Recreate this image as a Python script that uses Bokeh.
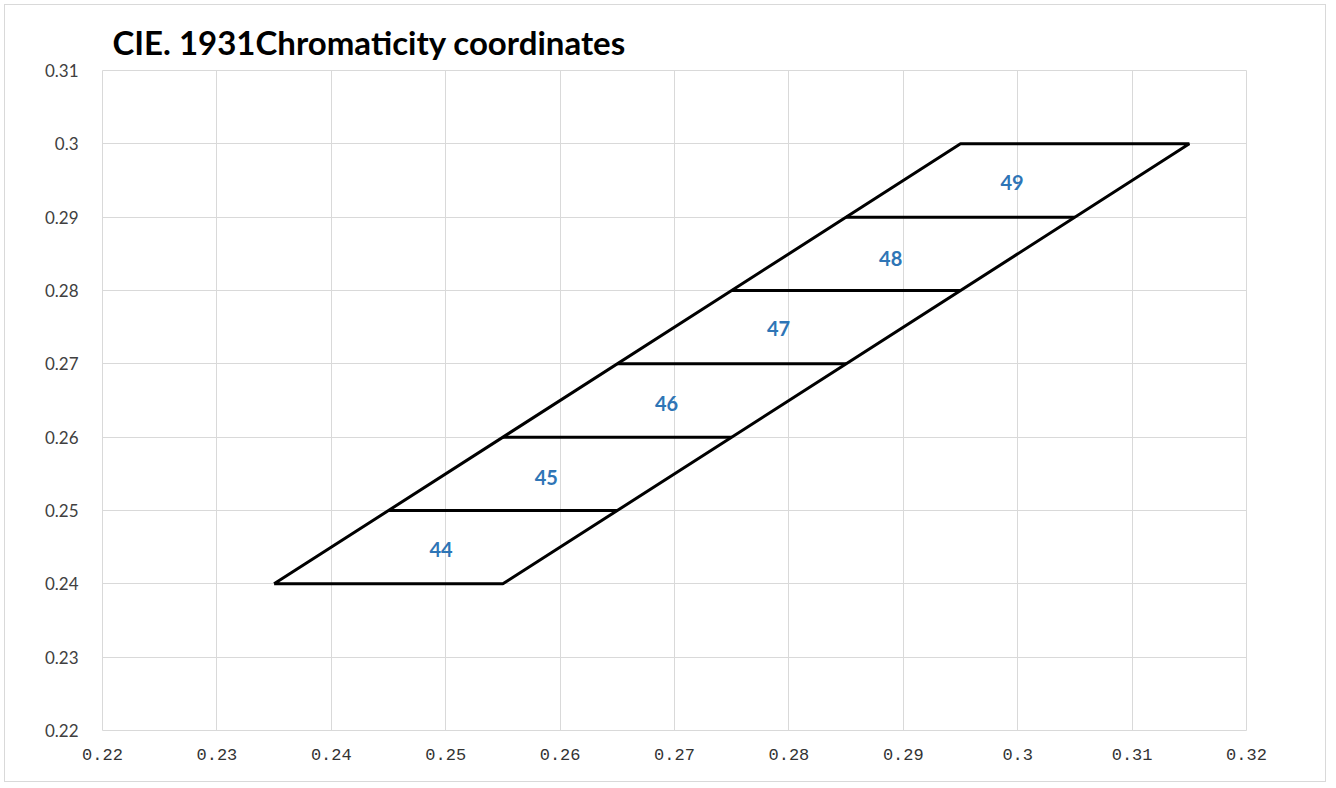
from bokeh.plotting import figure
from bokeh.models import Range1d, FixedTicker, InlineStyleSheet
from bokeh.core.properties import value
from bokeh.embed import file_html
from bokeh.resources import INLINE

# ---- data ----
x_ticks = [0.22, 0.23, 0.24, 0.25, 0.26, 0.27, 0.28, 0.29, 0.30, 0.31, 0.32]
x_tick_labels = ["0.22", "0.23", "0.24", "0.25", "0.26", "0.27", "0.28", "0.29", "0.3", "0.31", "0.32"]
y_ticks = [0.22, 0.23, 0.24, 0.25, 0.26, 0.27, 0.28, 0.29, 0.30, 0.31]
y_tick_labels = ["0.22", "0.23", "0.24", "0.25", "0.26", "0.27", "0.28", "0.29", "0.3", "0.31"]

# outline of the parallelogram (closed)
outline_x = [0.235, 0.255, 0.315, 0.295, 0.235]
outline_y = [0.240, 0.240, 0.300, 0.300, 0.240]

# horizontal dividers
div_y = [0.25, 0.26, 0.27, 0.28, 0.29]
div_x0 = [0.245, 0.255, 0.265, 0.275, 0.285]
div_x1 = [0.265, 0.275, 0.285, 0.295, 0.305]

# bin labels
bin_names = ["44", "45", "46", "47", "48", "49"]
bin_x = [0.2496, 0.2588, 0.2693, 0.2791, 0.2889, 0.2995]
bin_y = [0.2447, 0.2545, 0.2646, 0.2748, 0.2844, 0.2947]

W, H = 1330, 786
p = figure(width=W, height=H, output_backend="svg", toolbar_location=None,
           x_range=Range1d(0.22, 0.32), y_range=Range1d(0.22, 0.31),
           min_border_left=102, min_border_right=84, min_border_top=70, min_border_bottom=56,
           title="CIE. 1931Chromaticity coordinates")
p.border_fill_color = None
p.background_fill_color = "white"
p.stylesheets = [InlineStyleSheet(css=":host { outline: 1px solid #d9d9d9; outline-offset: -5px; }")]
p.outline_line_color = "#d9d9d9"
p.outline_line_width = 1

p.title.text_font = "Lato"
p.title.text_font_style = "bold"
p.title.text_font_size = "33px"
p.title.text_color = "black"
p.title.align = "left"
p.title.offset = 10
p.title.standoff = 17

for ax in (p.xaxis[0], p.yaxis[0]):
    ax.axis_line_color = None
    ax.major_tick_line_color = None
    ax.minor_tick_line_color = None

p.xaxis.ticker = FixedTicker(ticks=x_ticks)
p.yaxis.ticker = FixedTicker(ticks=y_ticks)
p.xaxis.major_label_overrides = {t: l for t, l in zip(x_ticks, x_tick_labels)}
p.yaxis.major_label_overrides = {t: l for t, l in zip(y_ticks, y_tick_labels)}
p.xaxis.major_label_text_font = "Liberation Mono"
p.xaxis.major_label_text_font_size = "17px"
p.xaxis.major_label_text_color = "#333333"
p.xaxis.major_label_standoff = 12
p.yaxis.major_label_text_font = "Lato"
p.yaxis.major_label_text_font_size = "17px"
p.yaxis.major_label_text_color = "#404040"
p.yaxis.major_label_standoff = 18

p.xgrid.ticker = FixedTicker(ticks=x_ticks)
p.ygrid.ticker = FixedTicker(ticks=y_ticks)
p.xgrid.grid_line_color = "#d9d9d9"
p.ygrid.grid_line_color = "#d9d9d9"

p.line(outline_x, outline_y, line_color="black", line_width=3)
p.segment(x0=div_x0, y0=div_y, x1=div_x1, y1=div_y, line_color="black", line_width=3)

p.text(x=bin_x, y=bin_y, text=bin_names, text_align="center", text_baseline="middle",
       text_color="#2e75b6", text_font=value("Lato"), text_font_style="bold",
       text_font_size="20px")

open("out.html", "w").write(file_html(p, INLINE))
